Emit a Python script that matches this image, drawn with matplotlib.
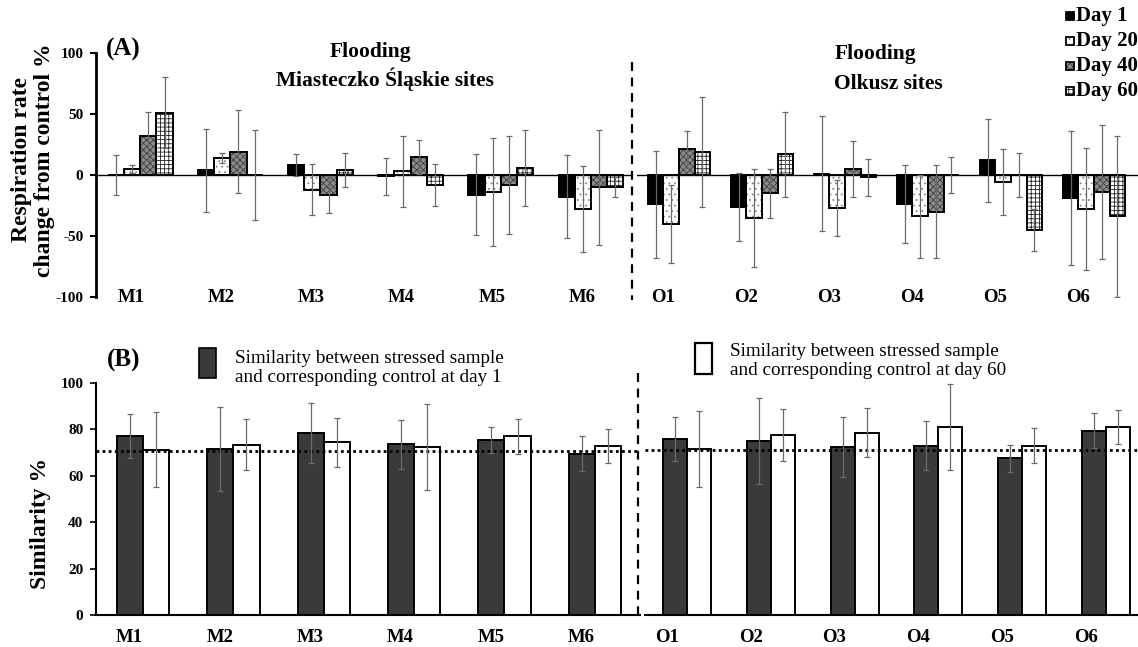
import numpy as np
import matplotlib
matplotlib.use('Agg')
import matplotlib.pyplot as plt
from matplotlib.patches import Rectangle

plt.rcParams['font.family'] = ['Liberation Serif', 'DejaVu Serif']
plt.rcParams['hatch.linewidth'] = 0.6

# ---- data -------------------------------------------------------------
m_sites = ['M1', 'M2', 'M3', 'M4', 'M5', 'M6']
o_sites = ['O1', 'O2', 'O3', 'O4', 'O5', 'O6']
days = ['Day 1', 'Day 20', 'Day 40', 'Day 60']

# (A) respiration rate change from control (%)
m_day1 = [0, 4, 8, -1, -16, -18]
m_day20 = [5, 14, -12, 3, -14, -28]
m_day40 = [32, 19, -16, 15, -8, -10]
m_day60 = [51, 0, 4, -8, 6, -10]
m_day1_err = [16, 34, 9, 15, 33, 34]
m_day20_err = [3, 4, 21, 29, 44, 35]
m_day40_err = [20, 34, 15, 14, 40, 47]
m_day60_err = [29, 37, 14, 17, 31, 8]

o_day1 = [-24, -26, 1, -24, 12, -19]
o_day20 = [-40, -35, -27, -34, -6, -28]
o_day40 = [21, -15, 5, -30, 0, -14]
o_day60 = [19, 17, -2, 0, -45, -34]
o_day1_err = [44, 28, 47, 32, 34, 55]
o_day20_err = [32, 40, 23, 34, 27, 50]
o_day40_err = [15, 20, 23, 38, 18, 55]
o_day60_err = [45, 35, 15, 15, 17, 66]

# (B) similarity (%)
sim_m_day1 = [77, 71.5, 78.5, 73.5, 75.5, 69.5]
sim_m_day60 = [71.3, 73.4, 74.5, 72.5, 77, 73]
sim_m_day1_err = [9.5, 18, 13, 10.5, 5.5, 7.5]
sim_m_day60_err = [16, 11, 10.5, 18.5, 7.5, 7.3]
sim_o_day1 = [76, 75, 72.5, 73, 67.5, 79.5]
sim_o_day60 = [71.5, 77.5, 78.5, 81, 73, 81]
sim_o_day1_err = [9.5, 18.5, 13, 10.5, 5.7, 7.6]
sim_o_day60_err = [16.5, 11.3, 10.6, 18.7, 7.5, 7.3]
sim_threshold_m = 70.5
sim_threshold_o = 71

# ---- styles -----------------------------------------------------------
day_styles = [
    dict(face='black', hatch=None, hcol='black'),
    dict(face='white', hatch='...', hcol='#888888'),
    dict(face='#8c8c8c', hatch='xxxxx', hcol='#3c3c3c'),
    dict(face='white', hatch='++++', hcol='#222222'),
]
ERR = dict(ecolor='#6a6a6a', elinewidth=0.9, capsize=2.5, capthick=0.9)

W, H = 1138, 647
fig = plt.figure(figsize=(W / 100, H / 100), dpi=100)


def px_axes(x0, y0, x1, y1):
    # box in pixels, origin at top-left
    return fig.add_axes([x0 / W, 1 - y1 / H, (x1 - x0) / W, (y1 - y0) / H])


def hatched_bar(ax, x, h, w, st, zorder=2):
    ax.bar(x, h, w, color=st['face'], hatch=st['hatch'], edgecolor=st['hcol'],
           linewidth=0, zorder=zorder)
    ax.bar(x, h, w, color='none', edgecolor='black', linewidth=1.4, zorder=zorder + 0.1)


def panel_a(ax, sites, vals, errs, width, left_axis, label_shift):
    x = np.arange(len(sites))
    for i, (v, e) in enumerate(zip(vals, errs)):
        xi = x + (i - 1.5) * width
        hatched_bar(ax, xi, v, width, day_styles[i])
        ax.errorbar(xi, v, yerr=e, fmt='none', zorder=4, **ERR)
    ax.axhline(0, color='black', lw=1.0, zorder=3)
    ax.set_ylim(-100, 100)
    for s in ['top', 'right', 'bottom']:
        ax.spines[s].set_visible(False)
    if left_axis:
        ax.spines['left'].set_linewidth(2)
        ax.set_yticks([-100, -50, 0, 50, 100])
        ax.set_yticklabels(['-100', '-50', '0', '50', '100'], fontweight='bold', fontsize=11)
        ax.tick_params(axis='y', length=4, width=1.5, pad=5)
    else:
        ax.spines['left'].set_visible(False)
        ax.set_yticks([])
    ax.set_xticks([])
    for xi, s in zip(x, sites):
        ax.text(xi + label_shift, -100, s, ha='center', va='center', fontweight='bold',
                fontsize=13.5, clip_on=False)
    ax.patch.set_alpha(0)


def panel_b(ax, sites, v1, e1, v60, e60, width, thr, left_axis, label_shift):
    x = np.arange(len(sites))
    ax.bar(x - width / 2, v1, width, color='#3a3a3a', edgecolor='black', linewidth=1.4, zorder=2)
    ax.bar(x + width / 2, v60, width, color='white', edgecolor='black', linewidth=1.4, zorder=2)
    ax.errorbar(x - width / 2, v1, yerr=e1, fmt='none', zorder=4, **ERR)
    ax.errorbar(x + width / 2, v60, yerr=e60, fmt='none', zorder=4, **ERR)
    ax.axhline(thr, color='black', lw=2, ls=(0, (1, 1.2)), zorder=3)
    ax.set_ylim(0, 100)
    ax.spines['top'].set_visible(False)
    ax.spines['right'].set_visible(False)
    ax.spines['bottom'].set_linewidth(1.5)
    if left_axis:
        ax.spines['left'].set_linewidth(1.5)
        ax.set_yticks(range(0, 101, 20))
        ax.set_yticklabels([str(t) for t in range(0, 101, 20)], fontweight='bold', fontsize=11)
        ax.tick_params(axis='y', length=4, width=1.2, pad=5)
    else:
        ax.spines['left'].set_visible(False)
        ax.set_yticks([])
    ax.set_xticks(x + label_shift)
    ax.set_xticklabels(sites, fontweight='bold', fontsize=13.5)
    ax.tick_params(axis='x', length=0, pad=10)
    ax.patch.set_alpha(0)


# panel A
ax_am = px_axes(96, 53, 632, 297)
panel_a(ax_am, m_sites, [m_day1, m_day20, m_day40, m_day60],
        [m_day1_err, m_day20_err, m_day40_err, m_day60_err], 0.18, True, -0.1)
ax_am.set_xlim(-0.49, 5.455)

ax_ao = px_axes(637, 53, 1138, 297)
panel_a(ax_ao, o_sites, [o_day1, o_day20, o_day40, o_day60],
        [o_day1_err, o_day20_err, o_day40_err, o_day60_err], 0.187, False, -0.19)
ax_ao.set_xlim(-0.506, 5.53)

# panel B
ax_bm = px_axes(96, 383, 640, 615)
panel_b(ax_bm, m_sites, sim_m_day1, sim_m_day1_err, sim_m_day60, sim_m_day60_err,
        0.29, sim_threshold_m, True, -0.15)
ax_bm.set_xlim(-0.52, 5.5)

ax_bo = px_axes(645, 383, 1138, 615)
panel_b(ax_bo, o_sites, sim_o_day1, sim_o_day1_err, sim_o_day60, sim_o_day60_err,
        0.286, sim_threshold_o, False, -0.24)
ax_bo.set_xlim(-0.50, 5.38)

# overlay for annotations, in pixel coordinates
ov = fig.add_axes([0, 0, 1, 1], zorder=10)
ov.set_xlim(0, W)
ov.set_ylim(H, 0)
ov.axis('off')

ov.plot([632, 632], [62, 300], color='black', lw=1.6, ls=(0, (4, 3)))
ov.plot([638, 638], [373, 617], color='black', lw=1.6, ls=(0, (4, 3)))

ov.text(106, 49, '(A)', fontsize=18, fontweight='bold', va='center', ha='left')
ov.text(371, 52, 'Flooding', fontsize=15.5, fontweight='bold', ha='center', va='center')
ov.text(385, 79, 'Miasteczko Śląskie sites', fontsize=15.5, fontweight='bold',
        ha='center', va='center')
ov.text(876, 54, 'Flooding', fontsize=15.5, fontweight='bold', ha='center', va='center')
ov.text(888, 84, 'Olkusz sites', fontsize=15.5, fontweight='bold', ha='center', va='center')
ov.text(33, 160, 'Respiration rate\nchange from control %', fontsize=17, fontweight='bold',
        rotation=90, ha='center', va='center', linespacing=1.1)

# day legend (top right)
for i, (d, yc) in enumerate(zip(days, [16, 41, 66, 91])):
    st = day_styles[i]
    ov.add_patch(Rectangle((1066, yc - 4), 8, 8, facecolor=st['face'], hatch=st['hatch'],
                           edgecolor=st['hcol'], linewidth=0))
    ov.add_patch(Rectangle((1066, yc - 4), 8, 8, facecolor='none', edgecolor='black',
                           linewidth=1.3))
    ov.text(1076, yc, d, fontsize=15, fontweight='bold', va='center', ha='left')

ov.text(107, 360, '(B)', fontsize=18, fontweight='bold', va='center', ha='left')
ov.text(41, 523, 'Similarity %', fontsize=17, fontweight='bold', rotation=90,
        ha='center', va='center')

ov.add_patch(Rectangle((199, 348), 17, 30, facecolor='#3a3a3a', edgecolor='black', lw=1.2))
ov.text(235, 368, 'Similarity between stressed sample\nand corresponding control at day 1',
        fontsize=13.8, ha='left', va='center', linespacing=1.15)
ov.add_patch(Rectangle((695, 343), 17, 31, facecolor='white', edgecolor='black', lw=1.6))
ov.text(730, 361, 'Similarity between stressed sample\nand corresponding control at day 60',
        fontsize=13.8, ha='left', va='center', linespacing=1.15)

fig.savefig('out.png', dpi=100)
